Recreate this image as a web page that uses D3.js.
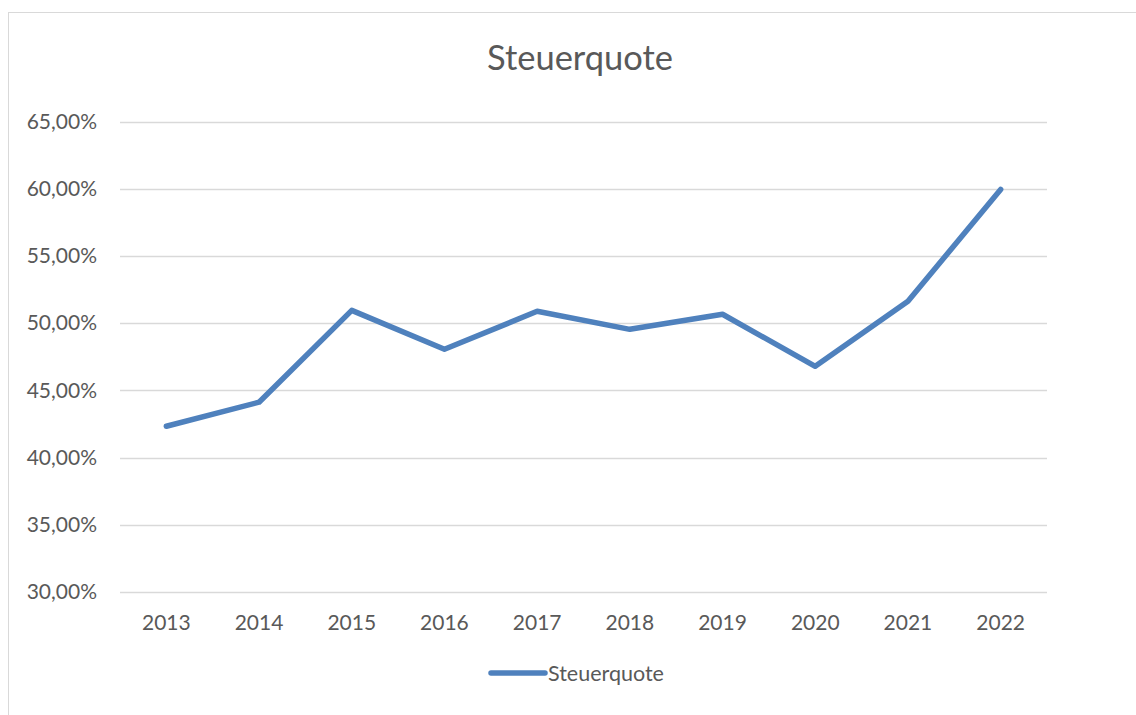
<!DOCTYPE html>
<html>
<head>
<meta charset="utf-8">
<script src="https://cdn.jsdelivr.net/npm/d3@7"></script>
<style>
  body { margin: 0; background: #fff; }
  text { font-family: Lato, "Open Sans", sans-serif; fill: #595959; }
</style>
</head>
<body>
<div id="chart"></div>
<script>
const years = ["2013", "2014", "2015", "2016", "2017", "2018", "2019", "2020", "2021", "2022"];
const steuerquote = [42.33, 44.12, 50.95, 48.06, 50.88, 49.54, 50.66, 46.79, 51.62, 59.95];
const yTicks = [30, 35, 40, 45, 50, 55, 60, 65];
const seriesName = "Steuerquote";

const dims = { width: 1136, height: 715 };
const plot = { left: 120, right: 1047, top: 121.5, bottom: 592 };

const svg = d3.select("#chart")
  .append("svg")
  .attr("width", dims.width)
  .attr("height", dims.height);

// chart frame (cut off at right / bottom like the source)
svg.append("rect")
  .attr("x", 8.5).attr("y", 12.5)
  .attr("width", 1140).attr("height", 720)
  .attr("fill", "none")
  .attr("stroke", "#d9d9d9");

svg.append("text")
  .attr("x", 580).attr("y", 70)
  .attr("text-anchor", "middle")
  .style("font-size", "34.5px")
  .text("Steuerquote");

const x = d3.scaleBand().domain(years).range([plot.left, plot.right]);
const y = d3.scaleLinear().domain([30, 65]).range([plot.bottom, plot.top]);

// gridlines
svg.append("g")
  .selectAll("line")
  .data(yTicks)
  .join("line")
  .attr("x1", plot.left).attr("x2", plot.right)
  .attr("y1", d => Math.round(y(d)) + 0.5)
  .attr("y2", d => Math.round(y(d)) + 0.5)
  .attr("stroke", "#d9d9d9")
  .attr("stroke-width", 1.3);

// y labels
svg.append("g")
  .selectAll("text")
  .data(yTicks)
  .join("text")
  .attr("x", 97)
  .attr("y", d => y(d))
  .attr("dy", "0.35em")
  .attr("text-anchor", "end")
  .style("font-size", "21px")
  .text(d => d3.format(".2f")(d).replace(".", ",") + "%");

// x labels
svg.append("g")
  .selectAll("text")
  .data(years)
  .join("text")
  .attr("x", d => x(d) + x.bandwidth() / 2)
  .attr("y", 623)
  .attr("dy", "0.35em")
  .attr("text-anchor", "middle")
  .style("font-size", "21px")
  .text(d => d);

const line = d3.line()
  .x((d, i) => x(years[i]) + x.bandwidth() / 2)
  .y(d => y(d));

svg.append("path")
  .datum(steuerquote)
  .attr("d", line)
  .attr("fill", "none")
  .attr("stroke", "#4f81bd")
  .attr("stroke-width", 5.5)
  .attr("stroke-linejoin", "round")
  .attr("stroke-linecap", "round");

// legend
const legend = svg.append("g").attr("transform", "translate(491, 673)");
legend.append("line")
  .attr("x1", 0).attr("x2", 54)
  .attr("y1", 0).attr("y2", 0)
  .attr("stroke", "#4f81bd")
  .attr("stroke-width", 5.5)
  .attr("stroke-linecap", "round");
legend.append("text")
  .attr("x", 57).attr("y", 0)
  .attr("dy", "0.35em")
  .style("font-size", "21.5px")
  .text(seriesName);
</script>
</body>
</html>
